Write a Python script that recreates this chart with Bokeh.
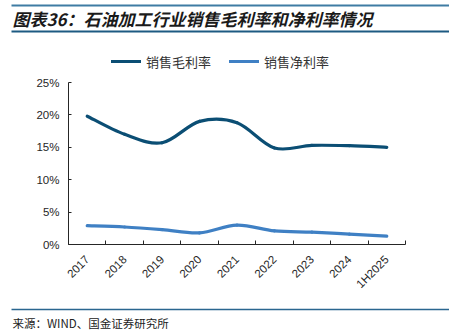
from bokeh.plotting import figure
from bokeh.models import (Range1d, FixedTicker, PrintfTickFormatter, Legend, LegendItem)
from bokeh.layouts import column
from bokeh.core.properties import value
from bokeh.embed import file_html
from bokeh.resources import INLINE

# ---------------- data ----------------
categories = ["2017", "2018", "2019", "2020", "2021", "2022", "2023", "2024", "1H2025"]
gross_margin = [19.8, 17.0, 15.7, 19.0, 18.8, 14.9, 15.3, 15.25, 15.0]   # 销售毛利率 (%)
net_margin = [2.9, 2.7, 2.3, 1.8, 3.0, 2.1, 1.9, 1.6, 1.3]               # 销售净利率 (%)
y_ticks = [0, 5, 10, 15, 20, 25]
title_text = "图表36：石油加工行业销售毛利率和净利率情况"
source_text = "来源：WIND、国金证券研究所"
series_names = ["销售毛利率", "销售净利率"]

CJK = "Noto Sans CJK SC"
LAT = "Liberation Sans"
C_GROSS = "#0B4E74"
C_NET = "#3F80C4"
AX = "#262626"

W = 449


def no_align(f):
    try:
        f.frame_align = False
    except Exception:
        pass
    return f


def deco_fig(h):
    f = figure(width=W, height=h, x_range=Range1d(0, W), y_range=Range1d(h, 0),
               x_axis_location=None, y_axis_location=None, toolbar_location=None,
               output_backend="svg", min_border=0, outline_line_color=None)
    f.grid.visible = False
    return no_align(f)


# ---------------- header ----------------
top = deco_fig(40)
top.segment(x0=[11], y0=[5], x1=[W], y1=[5], line_color="#3F7CA3", line_width=2)
top.segment(x0=[11], y0=[31], x1=[W], y1=[31], line_color="#1D5A82", line_width=2)
top.text(x=[12], y=[18], text=[title_text], text_font=value(CJK), text_font_size="17px",
         text_font_style="bold italic", text_color="#1a1a1a", text_baseline="middle")

# ---------------- main chart ----------------
n = len(categories)
frame_h = 204
ytop = 25 * frame_h / 162.0
p = figure(width=W, height=265, x_range=Range1d(0, n), y_range=Range1d(0, ytop),
           toolbar_location=None, output_backend="svg",
           min_border_left=68, min_border_right=44, min_border_top=0, min_border_bottom=61,
           outline_line_color=None)
p.grid.visible = False
no_align(p)


def smooth(vals):
    xs = [i + 0.5 for i in range(len(vals))]
    m = len(vals)
    d = dict(x0=[], y0=[], x1=[], y1=[], cx0=[], cy0=[], cx1=[], cy1=[])
    for i in range(m - 1):
        a = max(i - 1, 0)
        b = min(i + 2, m - 1)
        d["x0"].append(xs[i]); d["y0"].append(vals[i])
        d["x1"].append(xs[i + 1]); d["y1"].append(vals[i + 1])
        d["cx0"].append(xs[i] + (xs[i + 1] - xs[a]) / 6.0)
        d["cy0"].append(vals[i] + (vals[i + 1] - vals[a]) / 6.0)
        d["cx1"].append(xs[i + 1] - (xs[b] - xs[i]) / 6.0)
        d["cy1"].append(vals[i + 1] - (vals[b] - vals[i]) / 6.0)
    return d


r1 = p.bezier(line_color=C_GROSS, line_width=3.2, line_cap="round", **smooth(gross_margin))
r2 = p.bezier(line_color=C_NET, line_width=3.2, line_cap="round", **smooth(net_margin))

legend = Legend(items=[LegendItem(label=series_names[0], renderers=[r1]),
                       LegendItem(label=series_names[1], renderers=[r2])],
                orientation="horizontal", location=(43, 173),
                glyph_width=30, glyph_height=20, label_standoff=5, spacing=18,
                padding=10, margin=0, border_line_color=None, background_fill_alpha=0,
                label_text_font=CJK, label_text_font_size="13px", label_text_color="#333333")
p.add_layout(legend)

# y axis
p.yaxis.ticker = FixedTicker(ticks=y_ticks, minor_ticks=[])
p.yaxis.formatter = PrintfTickFormatter(format="%d%%")
p.yaxis.bounds = (y_ticks[0], y_ticks[-1])
p.yaxis.major_tick_in = 3
p.yaxis.major_tick_out = 0
p.yaxis.minor_tick_line_color = None
p.yaxis.axis_line_color = AX
p.yaxis.major_tick_line_color = AX
p.yaxis.major_label_standoff = 9
p.yaxis.major_label_text_font = LAT
p.yaxis.major_label_text_font_size = "11.5px"
p.yaxis.major_label_text_color = "#262626"

# x axis: labels at category centres, tick marks at boundaries
centres = [i + 0.5 for i in range(n)]
p.xaxis.ticker = FixedTicker(ticks=centres, minor_ticks=list(range(n + 1)))
p.xaxis.major_label_overrides = {c: lab for c, lab in zip(centres, categories)}
p.xaxis.major_tick_line_color = None
p.xaxis.minor_tick_in = 4
p.xaxis.minor_tick_out = 0
p.xaxis.minor_tick_line_color = AX
p.xaxis.axis_line_color = AX
p.xaxis.major_label_orientation = 0.785398
p.xaxis.major_label_standoff = 7
p.xaxis.major_label_text_font = LAT
p.xaxis.major_label_text_font_size = "11.5px"
p.xaxis.major_label_text_color = "#262626"

# ---------------- footer ----------------
bot = deco_fig(30)
bot.segment(x0=[11], y0=[4], x1=[W], y1=[4], line_color="#2A6690", line_width=1.6)
bot.text(x=[12], y=[17], text=[source_text], text_font=value(CJK), text_font_size="11.5px",
         text_color="#222222", text_baseline="middle")

layout = column(top, p, bot, spacing=0)
open("out.html", "w").write(file_html(layout, INLINE))
